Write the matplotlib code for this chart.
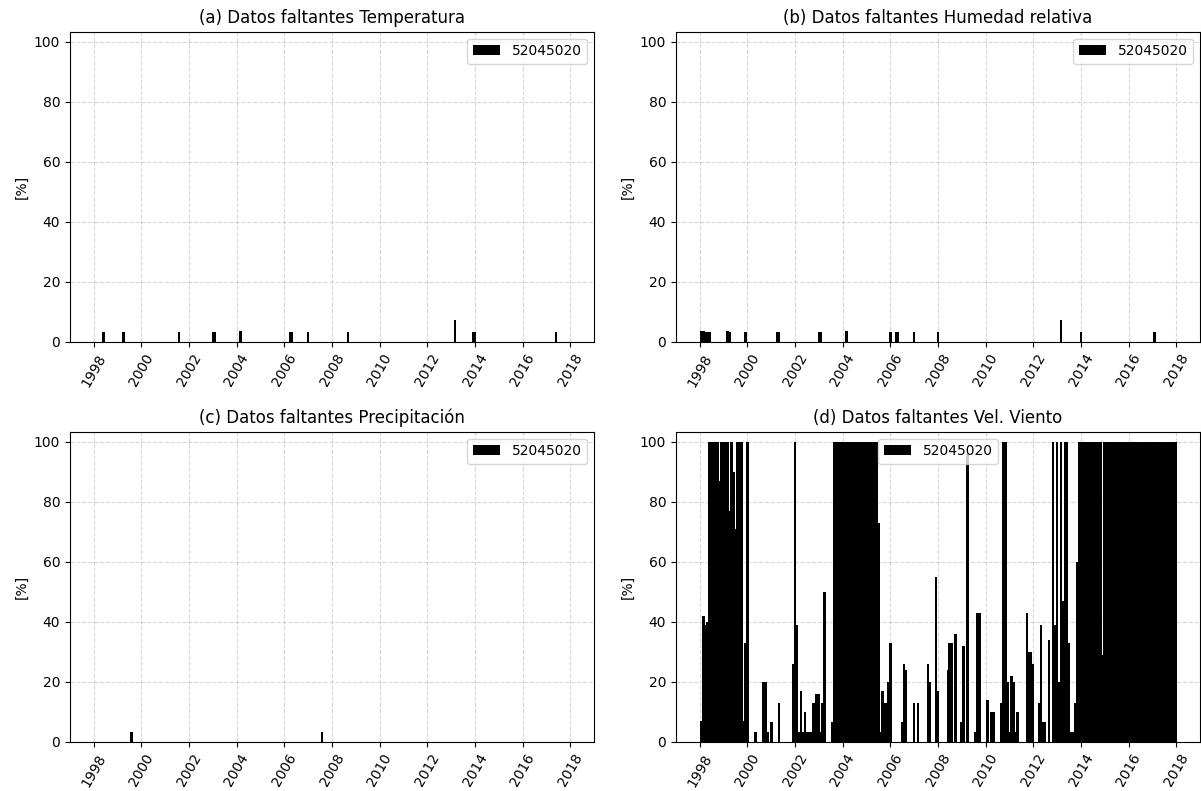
import numpy as np
import pandas as pd
import matplotlib
matplotlib.use("Agg")
import matplotlib.pyplot as plt
import matplotlib.dates as mdates

station = "52045020"

titles = [
    "(a) Datos faltantes Temperatura",
    "(b) Datos faltantes Humedad relativa",
    "(c) Datos faltantes Precipitación",
    "(d) Datos faltantes Vel. Viento",
]

# Months with missing records and the share of missing days [%]
temp_months = ["1998-05", "1999-03", "2001-07", "2002-12", "2003-01", "2004-02",
               "2006-03", "2006-04", "2006-12", "2008-08", "2013-02", "2013-11",
               "2013-12", "2017-05"]
temp_pct = [3.2, 3.2, 3.3, 3.2, 3.2, 3.4, 3.2, 3.3, 3.2, 3.2, 7.1, 3.3, 3.2, 3.2]

hum_months = ["1998-01", "1998-02", "1998-03", "1998-04", "1998-05", "1999-02",
              "1999-03", "1999-11", "2001-03", "2001-04", "2002-12", "2003-01",
              "2004-02", "2005-12", "2006-03", "2006-04", "2006-12", "2007-12",
              "2013-02", "2013-12", "2017-01"]
hum_pct = [3.7, 3.4, 3.3, 3.3, 3.3, 3.6, 3.3, 3.3, 3.3, 3.3, 3.2, 3.2,
           3.4, 3.2, 3.3, 3.3, 3.2, 3.2, 7.1, 3.2, 3.2]

prec_months = ["1999-07", "2007-07"]
prec_pct = [3.2, 3.2]

# Wind speed: one value per month, January 1998 to December 2017
wind_pct = [
    7, 42, 39, 40, 100, 100, 100, 100, 100, 87, 100, 100,          # 1998
    100, 100, 77, 100, 90, 71, 100, 100, 100, 7, 33, 100,          # 1999
    0, 0, 0, 3.3, 0, 0, 0, 20, 20, 3.3, 0, 6.7,                    # 2000
    0, 0, 0, 13, 0, 0, 0, 0, 0, 0, 26, 100,                        # 2001
    39, 3.3, 17, 3.3, 10, 3.3, 3.3, 3.3, 13, 13, 16, 16,           # 2002
    3.3, 13, 50, 0, 0, 0, 6.7, 100, 100, 100, 100, 100,            # 2003
    100, 100, 100, 100, 100, 100, 100, 100, 100, 100, 100, 100,    # 2004
    100, 100, 100, 100, 100, 73, 3.3, 17, 13, 13, 20, 33,          # 2005
    0, 0, 0, 0, 0, 6.7, 26, 24, 0, 0, 0, 13,                       # 2006
    0, 13, 0, 0, 0, 0, 26, 20, 0, 0, 55, 17,                       # 2007
    0, 0, 0, 0, 24, 33, 33, 0, 36, 0, 0, 6.7,                      # 2008
    32, 0, 96, 0, 0, 0, 3.3, 43, 43, 0, 0, 0,                      # 2009
    14, 0, 10, 10, 0, 0, 0, 13, 100, 100, 20, 3.3,                 # 2010
    22, 20, 3.3, 10, 0, 0, 0, 0, 43, 30, 30, 26,                   # 2011
    0, 0, 13, 39, 6.7, 6.5, 0, 34, 0, 100, 39, 100,                # 2012
    20, 100, 47, 100, 100, 33, 3.3, 3.3, 13, 60, 100, 100,         # 2013
    100, 100, 100, 100, 100, 100, 100, 100, 100, 100, 29, 100,     # 2014
    100, 100, 100, 100, 100, 100, 100, 100, 100, 100, 100, 100,    # 2015
    100, 100, 100, 100, 100, 100, 100, 100, 100, 100, 100, 100,    # 2016
    100, 100, 100, 100, 100, 100, 100, 100, 100, 100, 100, 100,    # 2017
]


def month_end(months):
    return mdates.date2num(pd.to_datetime(months) + pd.offsets.MonthEnd(0))


wind_dates = mdates.date2num(pd.date_range("1998-01-31", periods=len(wind_pct), freq="ME"))

series = [
    (month_end(temp_months), temp_pct),
    (month_end(hum_months), hum_pct),
    (month_end(prec_months), prec_pct),
    (wind_dates, wind_pct),
]
legend_locs = ["upper right", "upper right", "upper right", "upper center"]

W, H = 1201, 791
fig = plt.figure(figsize=(W / 100, H / 100), dpi=100)

# axes boxes in pixels: left, top, right, bottom
boxes = [
    (70, 31.7, 594, 341.7),
    (676, 31.7, 1200, 341.7),
    (70, 431.7, 594, 741.7),
    (676, 431.7, 1200, 741.7),
]

x_lo = mdates.date2num(pd.Timestamp("1997-01-01"))
x_hi = mdates.date2num(pd.Timestamp("2019-01-01"))

for (l, t, r, b), title, (x, y), loc in zip(boxes, titles, series, legend_locs):
    ax = fig.add_axes([l / W, 1 - b / H, (r - l) / W, (b - t) / H])
    ax.bar(x, y, width=40, color="black", label=station)
    ax.set_xlim(x_lo, x_hi)
    ax.set_ylim(0, 103.3)
    ax.set_yticks([0, 20, 40, 60, 80, 100])
    ax.xaxis.set_major_locator(mdates.YearLocator(2))
    ax.xaxis.set_major_formatter(mdates.DateFormatter("%Y"))
    plt.setp(ax.get_xticklabels(), rotation=60)
    ax.grid(True, linestyle="--", alpha=0.5)
    ax.set_axisbelow(True)
    ax.set_ylabel("[%]")
    ax.set_title(title)
    ax.legend(loc=loc)

fig.savefig("out.png", dpi=100)
